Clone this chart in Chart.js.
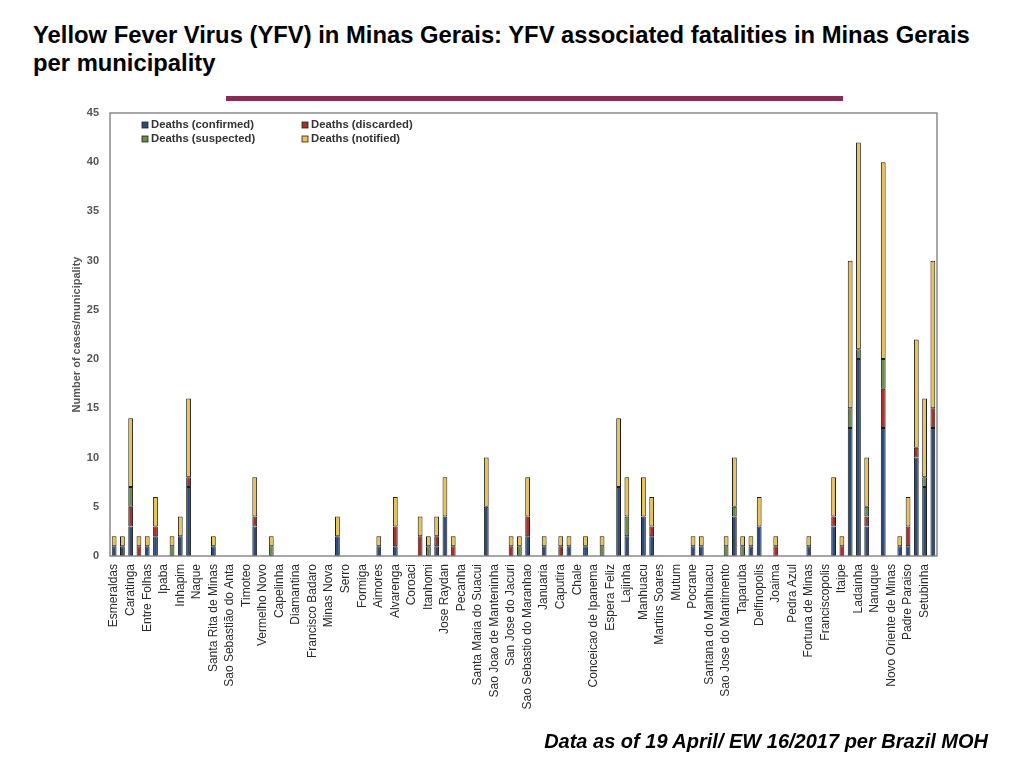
<!DOCTYPE html>
<html>
<head>
<meta charset="utf-8">
<script src="https://cdn.jsdelivr.net/npm/chart.js@4"></script>
<style>
  body { margin: 0; background: #fff; font-family: "Liberation Sans", Arial, sans-serif; }
  #wrap { position: relative; width: 1024px; height: 768px; overflow: hidden; }
  #title { position: absolute; left: 33px; top: 21px; font-size: 23.8px; font-weight: bold; line-height: 28px; color: #000; white-space: nowrap; }
  #rule { position: absolute; left: 226px; top: 96px; width: 617px; height: 5px; background: #8b2a58; }
  #note { position: absolute; right: 36px; top: 730px; font-size: 20px; font-weight: bold; font-style: italic; color: #000; white-space: nowrap; }
  canvas { position: absolute; left: 0; top: 0; }
</style>
</head>
<body>
<div id="wrap">
  <div id="title">Yellow Fever Virus (YFV) in Minas Gerais: YFV associated fatalities in Minas Gerais<br>per municipality</div>
  <div id="rule"></div>
  <canvas id="myChart" width="1024" height="768"></canvas>
  <div id="note">Data as of 19 April/ EW 16/2017 per Brazil MOH</div>
</div>
<script>
// municipalities shown on the axis (every other category gets a label)
var shownNames = ['Esmeraldas', 'Caratinga', 'Entre Folhas', 'Ipaba', 'Inhapim', 'Naque',
  'Santa Rita de Minas', 'Sao Sebastião do Anta', 'Timoteo', 'Vermelho Novo', 'Capelinha',
  'Diamantina', 'Francisco Badaro', 'Minas Nova', 'Serro', 'Formiga', 'Aimores', 'Alvarenga',
  'Coroaci', 'Itanhomi', 'Jose Raydan', 'Pecanha', 'Santa Maria do Suacui',
  'Sao Joao de Manteninha', 'San Jose do Jacuri', 'Sao Sebastio do Maranhao', 'Januaria',
  'Caputira', 'Chale', 'Conceicao de Ipanema', 'Espera Feliz', 'Lajinha', 'Manhuacu',
  'Martins Soares', 'Mutum', 'Pocrane', 'Santana do Manhuacu', 'Sao Jose do Mantimento',
  'Taparuba', 'Delfinopolis', 'Joaima', 'Pedra Azul', 'Fortuna de Minas', 'Franciscopolis',
  'Itaipe', 'Ladainha', 'Nanuque', 'Novo Oriente de Minas', 'Padre Paraiso', 'Setubinha'];

var confirmed = [1,1,3,0,1,2,0,0,2,7, 0,0,1,0,0,0,0,3,0,0, 0,0,0,0,0,0,0,2,0,0,
  0,0,1,0,1,0,0,0,0,1, 4,0,0,0,0,5,0,0,0,0, 2,0,1,0,0,1,0,1,0,0,
  0,7,2,0,4,2,0,0,0,0, 1,1,0,0,0,4,0,1,3,0, 0,0,0,0,1,0,0,3,0,13,
  20,3,0,13,0,1,1,10,7,13];
var discarded = [0,0,2,1,0,1,0,0,0,1, 0,0,0,0,0,0,0,1,0,0, 0,0,0,0,0,0,0,0,0,0,
  0,0,0,0,2,0,0,2,0,1, 0,1,0,0,0,0,0,0,1,0, 2,0,0,0,1,0,0,0,0,0,
  0,0,0,0,0,1,0,0,0,0, 0,0,0,0,0,0,0,0,0,0, 1,0,0,0,0,0,0,1,1,0,
  0,1,0,4,0,0,2,1,0,2];
var suspected = [0,0,2,0,0,0,0,1,0,0, 0,0,0,0,0,0,0,0,0,1, 0,0,0,0,0,0,0,0,0,0,
  0,0,0,0,0,0,0,0,1,0, 0,0,0,0,0,0,0,0,0,1, 0,0,0,0,0,0,0,0,0,1,
  0,0,2,0,0,0,0,0,0,0, 0,0,0,0,1,1,1,0,0,0, 0,0,0,0,0,0,0,0,0,2,
  1,1,0,3,0,0,0,0,1,0];
var notified = [1,1,7,1,1,3,0,1,2,8, 0,0,1,0,0,0,0,4,0,1, 0,0,0,0,0,0,0,2,0,0,
  0,0,1,0,3,0,0,2,1,2, 4,1,0,0,0,5,0,0,1,1, 4,0,1,0,1,1,0,1,0,1,
  0,7,4,0,4,3,0,0,0,0, 1,1,0,0,1,5,1,1,3,0, 1,0,0,0,1,0,0,4,1,15,
  21,5,0,20,0,1,3,11,8,15];

var yTicks = [0, 5, 10, 15, 20, 25, 30, 35, 40, 45];

var labels = [];
shownNames.forEach(function(n) {
  labels.push(n);
  labels.push('');
});

function ds(label, values, color) {
  return {
    label: label,
    data: values,
    backgroundColor: color,
    borderColor: '#1c1c1c',
    borderWidth: 1,
    borderSkipped: false,
    barPercentage: 0.58,
    categoryPercentage: 1.0
  };
}

// frame round the plot + legend in 2 columns
var framePlugin = {
  id: 'frame',
  afterDraw: function(chart) {
    var ctx = chart.ctx, a = chart.chartArea;
    ctx.save();
    ctx.strokeStyle = '#8a8a8a';
    ctx.lineWidth = 1.5;
    ctx.strokeRect(a.left, a.top, a.right - a.left, a.bottom - a.top);

    var spots = [[142, 125], [302, 125], [142, 139], [302, 139]];
    ctx.font = 'bold 11.3px "Liberation Sans", Arial, sans-serif';
    ctx.textBaseline = 'middle';
    chart.data.datasets.forEach(function(d, k) {
      var p = spots[k];
      ctx.fillStyle = d.backgroundColor;
      ctx.fillRect(p[0], p[1] - 3, 6, 6);
      ctx.strokeStyle = '#222';
      ctx.lineWidth = 0.8;
      ctx.strokeRect(p[0], p[1] - 3, 6, 6);
      ctx.fillStyle = '#333';
      ctx.fillText(d.label, p[0] + 9, p[1]);
    });
    ctx.restore();
  }
};

const config = {
  type: 'bar',
  data: {
    labels: labels,
    datasets: [
      ds('Deaths (confirmed)', confirmed, '#2f4b78'),
      ds('Deaths (discarded)', discarded, '#a8302a'),
      ds('Deaths (suspected)', suspected, '#6b8c4a'),
      ds('Deaths (notified)', notified, '#e9c251')
    ]
  },
  options: {
    responsive: false,
    animation: false,
    layout: { padding: { left: 66, top: 113, right: 87, bottom: 0 } },
    plugins: {
      legend: { display: false },
      tooltip: { enabled: false }
    },
    scales: {
      x: {
        stacked: true,
        grid: { display: false },
        border: { display: false },
        ticks: {
          autoSkip: false,
          minRotation: 90,
          maxRotation: 90,
          padding: 0,
          color: '#2a2a2a',
          font: { family: '"Liberation Sans", Arial, sans-serif', size: 12 }
        },
        afterFit: function(scale) { scale.height = 212; }
      },
      y: {
        stacked: true,
        min: 0,
        max: 45,
        grid: { display: false },
        border: { display: false },
        afterBuildTicks: function(scale) {
          scale.ticks = yTicks.map(function(v) { return { value: v }; });
        },
        ticks: {
          padding: 3,
          color: '#555',
          font: { family: '"Liberation Sans", Arial, sans-serif', size: 11, weight: 'bold' }
        },
        title: {
          display: true,
          text: 'Number of cases/municipality',
          color: '#555',
          padding: { top: 4, bottom: 0 },
          font: { family: '"Liberation Sans", Arial, sans-serif', size: 11, weight: 'bold' }
        },
        afterFit: function(scale) { scale.width = 44; }
      }
    }
  },
  plugins: [framePlugin]
};

var myChart = new Chart(document.getElementById('myChart'), config);
</script>
</body>
</html>
